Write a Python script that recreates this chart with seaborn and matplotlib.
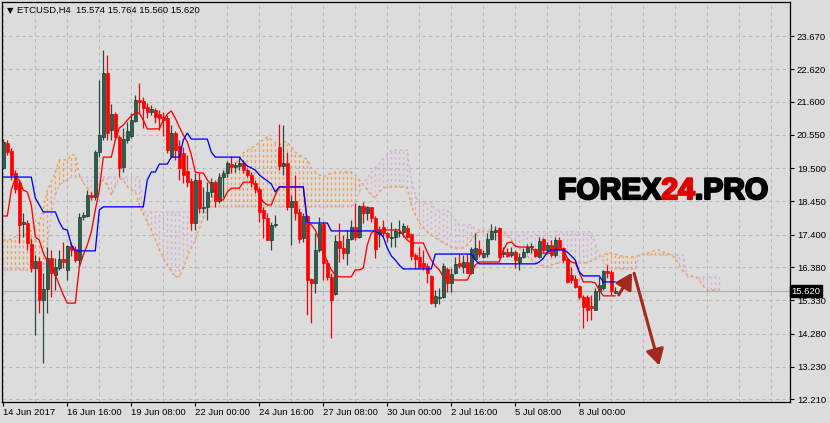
import matplotlib
matplotlib.use("Agg")
import matplotlib.pyplot as plt
import matplotlib.patheffects as pe
import seaborn as sns
import pandas as pd

# ---------------- data ----------------
opens = [
    19.51, 20.30, 20.04, 19.35, 19.03, 17.74, 17.77, 17.11, 16.35, 16.57,
    15.34, 15.69, 16.66, 16.13, 16.35, 16.63, 16.29, 17.04, 16.95, 16.60,
    17.96, 17.99, 18.65, 18.59, 20.01, 20.49, 22.51, 20.71, 21.21, 20.49,
    19.54, 20.39, 20.52, 20.99, 21.65, 21.62, 21.43, 21.27, 21.34, 21.21,
    21.12, 21.08, 19.89, 20.61, 20.20, 19.98, 19.41, 19.10, 17.77, 19.13,
    18.24, 18.28, 18.75, 19.06, 18.46, 19.22, 19.35, 19.63, 19.54, 19.57,
    19.66, 19.44, 19.29, 19.03, 18.84, 18.18, 17.93, 17.23, 17.71, 20.17,
    19.57, 19.66, 18.28, 18.46, 18.12, 17.30, 17.99, 16.00, 15.88, 16.92,
    17.74, 16.51, 16.07, 15.53, 17.20, 16.98, 16.82, 17.26, 17.64, 17.33,
    18.31, 18.09, 18.28, 17.93, 17.42, 17.64, 17.45, 17.30, 17.33, 17.45,
    17.49, 17.61, 17.42, 16.76, 16.70, 16.51, 16.41, 16.10, 15.24, 15.40,
    15.43, 16.32, 15.88, 16.19, 16.51, 16.38, 16.54, 16.19, 16.63, 16.95,
    16.70, 16.79, 17.26, 17.49, 17.61, 16.79, 16.85, 16.76, 16.85, 16.54,
    16.70, 16.85, 17.01, 16.95, 16.70, 17.26, 16.92, 17.08, 16.76, 17.23,
    16.98, 16.63, 16.13, 16.00, 15.78, 15.43, 15.43, 15.15, 15.02, 15.62,
    15.72, 16.25, 16.22, 15.574]
highs = [
    20.42, 20.39, 20.14, 19.44, 19.13, 18.09, 17.86, 17.30, 16.76, 16.70,
    16.19, 17.01, 16.92, 16.66, 16.92, 17.17, 17.08, 17.17, 17.04, 18.09,
    18.12, 18.81, 18.75, 20.07, 22.28, 23.23, 23.07, 21.53, 21.27, 20.55,
    20.77, 20.96, 21.24, 21.81, 22.19, 21.75, 21.56, 21.50, 21.40, 21.34,
    21.27, 21.18, 20.86, 20.67, 20.39, 20.17, 19.92, 19.19, 19.35, 19.35,
    18.91, 19.06, 19.19, 19.13, 19.35, 19.44, 19.73, 19.89, 19.70, 19.82,
    19.76, 19.51, 19.38, 19.13, 18.91, 18.28, 18.09, 17.80, 18.02, 20.89,
    20.86, 20.01, 18.65, 19.29, 18.24, 18.09, 18.02, 16.03, 17.45, 17.96,
    17.80, 16.60, 16.19, 17.39, 17.77, 17.39, 17.55, 17.86, 18.40, 18.34,
    18.43, 18.31, 18.28, 17.99, 17.67, 17.86, 17.49, 17.80, 17.61, 17.86,
    17.77, 17.71, 17.45, 16.82, 17.01, 16.92, 16.51, 16.13, 15.65, 15.72,
    16.51, 16.38, 16.35, 16.70, 16.79, 16.76, 16.79, 17.01, 17.45, 17.23,
    16.92, 17.45, 17.74, 17.67, 17.64, 17.01, 16.98, 17.01, 16.92, 16.82,
    16.98, 17.11, 17.14, 16.98, 17.33, 17.30, 17.17, 17.23, 17.33, 17.33,
    17.01, 16.70, 16.38, 16.13, 15.81, 15.50, 15.50, 15.50, 15.72, 16.07,
    16.29, 16.44, 16.29, 15.764]
lows = [
    19.47, 19.92, 19.13, 18.72, 17.14, 17.33, 16.92, 16.22, 14.23, 14.93,
    13.35, 14.93, 15.43, 15.65, 16.29, 16.35, 15.97, 16.73, 16.54, 16.38,
    17.86, 17.96, 18.50, 18.50, 19.85, 20.39, 20.39, 20.39, 20.39, 19.22,
    19.38, 20.30, 20.45, 20.96, 21.21, 20.77, 21.08, 21.18, 20.93, 20.71,
    20.52, 19.98, 19.85, 19.76, 19.13, 19.03, 18.91, 17.55, 17.55, 18.09,
    18.09, 17.86, 18.59, 18.28, 18.40, 18.59, 19.22, 19.35, 19.38, 19.44,
    19.35, 19.22, 18.91, 18.72, 17.80, 17.30, 17.23, 16.92, 17.64, 19.44,
    19.29, 18.18, 17.08, 17.86, 17.14, 17.17, 14.87, 14.61, 15.56, 16.85,
    15.97, 15.97, 14.14, 15.50, 16.54, 16.63, 16.44, 17.23, 17.23, 17.30,
    17.77, 17.86, 17.80, 16.66, 17.01, 17.33, 17.17, 17.01, 17.01, 17.33,
    17.33, 17.30, 16.60, 16.32, 16.35, 16.29, 15.88, 15.21, 15.12, 15.21,
    15.40, 15.59, 15.59, 16.16, 16.35, 16.19, 16.19, 16.16, 16.60, 16.70,
    16.66, 16.70, 17.23, 17.23, 16.66, 16.70, 16.70, 16.70, 16.35, 16.29,
    16.66, 16.82, 16.82, 16.70, 16.70, 16.85, 16.79, 16.70, 16.70, 16.92,
    16.54, 15.88, 15.88, 15.72, 15.37, 14.46, 14.68, 14.71, 15.02, 15.34,
    15.65, 16.03, 15.50, 15.56]
closes = [
    20.33, 20.01, 19.29, 18.84, 17.71, 17.80, 17.14, 16.35, 16.57, 15.34,
    15.69, 16.66, 16.19, 16.38, 16.63, 16.54, 17.04, 16.92, 16.60, 17.96,
    18.02, 18.65, 18.59, 20.01, 20.55, 22.51, 20.61, 21.21, 20.49, 19.51,
    20.42, 20.67, 21.02, 21.65, 21.59, 21.40, 21.27, 21.37, 21.12, 21.08,
    21.02, 20.07, 20.61, 20.07, 19.51, 19.29, 19.06, 17.77, 19.13, 18.24,
    18.28, 18.75, 19.06, 18.46, 19.22, 19.35, 19.66, 19.54, 19.60, 19.66,
    19.44, 19.29, 19.06, 18.84, 18.12, 17.93, 17.23, 17.71, 17.74, 19.57,
    19.66, 18.28, 18.46, 18.09, 17.26, 17.99, 15.97, 15.88, 16.92, 17.74,
    16.51, 16.07, 15.34, 17.20, 16.98, 16.82, 17.26, 17.64, 17.33, 18.31,
    18.09, 18.28, 17.93, 16.95, 17.55, 17.45, 17.33, 17.33, 17.52, 17.49,
    17.67, 17.33, 16.73, 16.63, 16.38, 16.38, 16.19, 15.24, 15.47, 15.43,
    16.41, 15.88, 16.16, 16.48, 16.41, 16.54, 16.19, 16.95, 16.98, 16.79,
    16.82, 17.26, 17.52, 17.55, 16.70, 16.85, 16.73, 16.85, 16.60, 16.70,
    16.85, 17.01, 17.04, 16.73, 17.20, 16.92, 17.08, 16.76, 17.23, 16.98,
    16.60, 15.91, 15.97, 15.75, 15.43, 15.12, 15.02, 15.09, 15.62, 15.81,
    16.25, 16.19, 15.62, 15.62]

tenkan = [
    17.99, 17.99, 18.81, 19.19, 19.13, 18.81, 18.75, 18.34, 17.33, 17.23,
    16.82, 16.57, 16.44, 16.13, 15.81, 15.50, 15.24, 15.24, 15.24, 16.38,
    16.76, 17.08, 17.49, 18.18, 18.81, 19.85, 19.85, 19.85, 20.39, 20.77,
    20.86, 21.02, 21.15, 21.24, 21.24, 21.02, 20.74, 20.74, 20.74, 20.74,
    21.02, 21.21, 21.31, 21.08, 20.80, 20.55, 20.33, 19.92, 19.38, 19.35,
    19.35, 19.13, 18.97, 18.75, 18.50, 18.50, 18.75, 18.87, 18.87, 18.87,
    19.06, 19.06, 19.06, 18.97, 18.65, 18.43, 18.34, 18.34, 18.65, 18.91,
    18.91, 18.91, 18.91, 18.91, 18.91, 18.91, 17.80, 17.71, 17.55, 17.23,
    16.85, 16.54, 16.29, 16.13, 16.07, 16.07, 16.07, 16.07, 16.29, 16.29,
    16.35, 17.08, 17.45, 17.55, 17.55, 17.55, 17.55, 17.55, 17.55, 17.55,
    17.39, 17.23, 17.14, 17.14, 17.14, 17.14, 16.85, 16.60, 16.41, 16.29,
    16.07, 16.03, 16.00, 15.97, 15.97, 15.97, 15.97, 16.22, 16.44, 16.54,
    16.54, 16.54, 16.54, 16.54, 16.54, 16.92, 17.14, 17.17, 17.04, 17.01,
    17.01, 17.01, 17.01, 16.85, 16.82, 16.82, 16.82, 16.82, 16.95, 16.98,
    16.92, 16.66, 16.54, 16.51, 16.22, 15.91, 15.91, 15.91, 15.88, 15.65,
    15.47, 15.47, 15.47, 15.47]
kijun = [
    19.22, 19.22, 19.22, 19.22, 19.22, 19.22, 19.22, 19.22, 18.56, 18.34,
    18.12, 18.12, 18.12, 18.12, 17.80, 17.58, 17.55, 17.08, 16.89, 16.89,
    16.89, 16.89, 16.89, 16.89, 18.18, 18.28, 18.28, 18.28, 18.28, 18.28,
    18.28, 18.28, 18.28, 18.28, 18.28, 18.28, 19.13, 19.38, 19.38, 19.63,
    19.63, 19.63, 19.85, 19.85, 19.85, 20.39, 20.61, 20.42, 20.42, 20.42,
    20.42, 20.42, 20.01, 19.85, 19.85, 19.85, 19.85, 19.85, 19.85, 19.85,
    19.70, 19.57, 19.51, 19.44, 19.29, 19.19, 19.10, 19.00, 18.75, 18.91,
    18.91, 18.91, 18.91, 18.91, 18.91, 18.91, 17.80, 17.77, 17.77, 17.77,
    17.77, 17.77, 17.52, 17.52, 17.52, 17.52, 17.52, 17.52, 17.52, 17.52,
    17.52, 17.52, 17.52, 17.52, 17.45, 17.33, 16.98, 16.73, 16.60, 16.44,
    16.32, 16.32, 16.32, 16.32, 16.32, 16.32, 16.32, 16.32, 16.79, 16.79,
    16.79, 16.79, 16.79, 16.79, 16.79, 16.79, 16.79, 16.79, 16.60, 16.48,
    16.48, 16.48, 16.48, 16.48, 16.48, 16.48, 16.48, 16.48, 16.48, 16.48,
    16.48, 16.48, 16.48, 16.48, 16.54, 16.66, 16.85, 16.92, 16.92, 16.92,
    16.92, 16.85, 16.73, 16.60, 16.22, 16.10, 16.10, 16.10, 16.10, 16.10,
    15.91, 15.91, 15.91, 15.91]
senkou_a = [
    17.23, 17.23, 17.26, 17.33, 17.36, 17.39, 17.45, 17.55, 17.67, 17.80,
    18.18, 18.81, 19.06, 19.38, 19.76, 19.76, 19.76, 19.92, 19.92, 19.29,
    19.03, 18.87, 18.72, 18.62, 18.97, 19.13, 18.97, 18.65, 18.97, 19.19,
    19.13, 18.91, 18.81, 18.75, 18.34, 18.05, 17.80, 17.55, 17.23, 16.92,
    16.66, 16.44, 16.25, 16.07, 16.07, 16.35, 16.70, 16.98, 17.23, 17.61,
    17.93, 18.18, 18.50, 18.97, 19.19, 19.35, 19.51, 19.57, 19.63, 19.82,
    19.98, 20.07, 20.14, 20.20, 20.33, 20.39, 20.49, 20.39, 20.30, 20.23,
    20.33, 20.33, 20.17, 20.01, 19.92, 19.85, 19.76, 19.51, 19.38, 19.29,
    19.22, 19.29, 19.35, 19.38, 19.38, 19.38, 19.38, 19.38, 19.29, 19.13,
    18.97, 18.81, 18.65, 18.56, 18.75, 18.87, 18.91, 18.91, 18.91, 18.91,
    18.91, 18.87, 18.34, 18.02, 17.77, 17.61, 17.49, 17.39, 17.30, 17.23,
    17.14, 17.08, 17.01, 16.98, 16.98, 16.98, 17.08, 17.23, 17.42, 17.49,
    17.49, 17.49, 17.49, 17.49, 17.49, 17.49, 17.36, 17.23, 17.08, 16.98,
    16.85, 16.73, 16.60, 16.51, 16.44, 16.41, 16.38, 16.44, 16.48, 16.51,
    16.51, 16.51, 16.51, 16.51, 16.51, 16.51, 16.51, 16.57, 16.63, 16.70,
    16.76, 16.82, 16.82, 16.79, 16.73, 16.73, 16.70, 16.70, 16.70, 16.76,
    16.79, 16.82, 16.85, 16.92, 16.92, 16.85, 16.82, 16.76, 16.66, 16.44,
    16.22, 16.13, 16.10, 16.07, 15.97, 15.78, 15.65, 15.65, 15.65, 15.65]
senkou_b = [
    16.29, 16.29, 16.29, 16.29, 16.29, 16.29, 16.29, 16.29, 16.29, 16.29,
    16.29, 17.08, 18.02, 18.65, 18.97, 19.06, 19.13, 19.22, 19.22, 19.22,
    19.22, 19.22, 19.22, 19.22, 19.22, 19.22, 19.22, 19.22, 19.22, 19.22,
    19.22, 19.22, 19.22, 19.22, 19.22, 18.12, 18.12, 18.12, 18.12, 18.12,
    18.12, 18.12, 18.12, 18.12, 18.12, 18.12, 18.12, 18.12, 18.12, 18.12,
    18.12, 18.28, 18.28, 18.28, 18.28, 18.28, 18.28, 18.28, 18.28, 18.28,
    18.28, 18.28, 18.28, 18.28, 18.28, 18.28, 18.28, 18.28, 18.28, 18.28,
    18.28, 18.28, 18.28, 18.28, 18.28, 18.28, 18.28, 18.28, 18.28, 18.28,
    18.28, 18.28, 18.28, 18.28, 18.28, 18.28, 18.28, 18.28, 18.43, 18.75,
    19.03, 19.19, 19.38, 19.51, 19.66, 19.82, 19.92, 20.07, 20.07, 20.07,
    20.07, 20.07, 19.13, 18.65, 18.40, 18.40, 18.40, 18.40, 18.18, 18.18,
    18.18, 18.18, 18.02, 17.86, 17.71, 17.71, 17.71, 17.71, 17.55, 17.55,
    17.55, 17.55, 17.55, 17.55, 17.55, 17.49, 17.49, 17.49, 17.49, 17.49,
    17.49, 17.49, 17.49, 17.49, 17.49, 17.49, 17.49, 17.49, 17.49, 17.49,
    17.49, 17.49, 17.49, 17.49, 17.49, 17.49, 17.49, 17.49, 17.08, 16.76,
    16.54, 16.41, 16.32, 16.32, 16.32, 16.32, 16.32, 16.32, 16.32, 16.76,
    16.76, 16.76, 16.76, 16.76, 16.76, 16.76, 16.76, 16.76, 16.76, 16.76,
    16.76, 16.07, 16.07, 16.07, 16.07, 16.07, 16.07, 16.07, 16.07, 16.07]

date_labels = ["14 Jun 2017", "16 Jun 16:00", "19 Jun 08:00", "22 Jun 00:00",
               "24 Jun 16:00", "27 Jun 08:00", "30 Jun 00:00", "2 Jul 16:00",
               "5 Jul 08:00", "8 Jul 00:00"]
date_label_bars = [0, 16, 32, 48, 64, 80, 96, 112, 128, 144]
price_ticks = [23.670, 22.620, 21.600, 20.550, 19.500, 18.450, 17.400,
               16.380, 15.330, 14.280, 13.230, 12.210]
last_price = 15.620
title_text = "ETCUSD,H4  15.574 15.764 15.560 15.620"

# ---------------- styling ----------------
sns.set_style("white")
plt.rcParams['font.family'] = ['Liberation Sans', 'DejaVu Sans']

BG = "#DCDCDC"
GRID = "#B9B9B9"
BULL_FACE = "#2F5E4E"
BULL_EDGE = "#1B3A30"
BULL_WICK = "#2B4A40"
BEAR = "#FF0000"
SANDY = "#F0A055"
THISTLE = "#D2B4D2"

W, H = 830, 423
fig = plt.figure(figsize=(W / 100, H / 100), dpi=100, facecolor=BG)
ax = fig.add_axes([2 / W, 21 / H, 788 / W, 400 / H], facecolor=BG)

n = len(opens)
bars = list(range(n))
df = pd.DataFrame({"bar": bars, "open": opens, "high": highs,
                   "low": lows, "close": closes,
                   "tenkan": tenkan, "kijun": kijun})
cloud = pd.DataFrame({"bar": list(range(len(senkou_a))),
                      "a": senkou_a, "b": senkou_b})

ax.set_xlim(-0.325, 196.675)
ax.set_ylim(12.119, 24.747)

# grid
for p in price_ticks:
    ax.axhline(p, color=GRID, lw=0.8, dashes=(3, 3), zorder=0)
for b in range(0, 197, 8):
    ax.axvline(b, color=GRID, lw=0.8, dashes=(3, 3), zorder=0)

# cloud hatching
for _, r in cloud.iterrows():
    lo, hi = min(r.a, r.b), max(r.a, r.b)
    col = SANDY if r.a >= r.b else THISTLE
    ax.vlines(r.bar, lo, hi, colors=col, lw=1.0, linestyles=(0, (2, 2)),
              zorder=1)
sns.lineplot(data=cloud, x="bar", y="a", ax=ax, color=SANDY, lw=1.0,
             zorder=2, legend=False)
sns.lineplot(data=cloud, x="bar", y="b", ax=ax, color=THISTLE, lw=1.0,
             zorder=2, legend=False)
for line in ax.lines[-2:]:
    line.set_dashes((2, 2))

# current price line
ax.axhline(last_price, color="#B2B2B2", lw=0.9, zorder=1)

# candles
for _, r in df.iterrows():
    bull = r.close >= r.open
    wick = BULL_WICK if bull else BEAR
    ax.vlines(r.bar, r.low, r.high, colors=wick, lw=0.9, zorder=3)
    lo, hi = min(r.open, r.close), max(r.open, r.close)
    h = max(hi - lo, 0.03)
    if bull:
        ax.bar(r.bar, h, bottom=lo, width=0.78, color=BULL_FACE,
               edgecolor=BULL_EDGE, linewidth=0.5, zorder=4)
    else:
        ax.bar(r.bar, h, bottom=lo, width=0.78, color=BEAR,
               edgecolor=BEAR, linewidth=0.5, zorder=4)

# tenkan / kijun
sns.lineplot(data=df, x="bar", y="tenkan", ax=ax, color="#FF0000", lw=0.95,
             zorder=5, legend=False)
sns.lineplot(data=df, x="bar", y="kijun", ax=ax, color="#0000FF", lw=0.95,
             zorder=5, legend=False)

# axes / ticks
ax.set_xlabel("")
ax.set_ylabel("")
for s in ax.spines.values():
    s.set_color("black")
    s.set_linewidth(0.9)
ax.yaxis.tick_right()
ax.set_yticks(price_ticks)
ax.set_yticklabels([f"{p:.3f}" for p in price_ticks])
ax.set_xticks(date_label_bars)
ax.set_xticklabels(date_labels)
for lab in ax.get_xticklabels():
    lab.set_horizontalalignment("left")
ax.tick_params(axis="y", which="both", length=3, width=0.8, pad=2,
               labelsize=6.8, colors="black", right=True, left=False)
ax.tick_params(axis="x", which="both", length=3, width=0.8, pad=1.5,
               labelsize=6.8, colors="black", bottom=True)

# last price box
ax.text(1.002, last_price, f"{last_price:.3f}", transform=ax.get_yaxis_transform(),
        ha="left", va="center", fontsize=6.8, color="white", zorder=10,
        bbox=dict(boxstyle="square,pad=0.15", fc="black", ec="black"),
        clip_on=False)

# title
fig.text(7 / W, 1 - 10.5 / H, "\u25BC", fontsize=6, family="DejaVu Sans",
         va="center", ha="left", color="black")
fig.text(17 / W, 1 - 10.5 / H, title_text, fontsize=6.8, va="center",
         ha="left", color="black")

# watermark
renderer = fig.canvas.get_renderer()
x0 = 558
yb = 1 - 199 / H
for piece, col in [("FOREX", "black"), ("24", "#E00000"), (".PRO", "black")]:
    t = fig.text(x0 / W, yb, piece, fontsize=21.6, fontweight="bold",
                 family="Liberation Sans", color=col, va="baseline", ha="left",
                 zorder=20,
                 path_effects=[pe.withStroke(linewidth=1.6, foreground=col)])
    bb = t.get_window_extent(renderer)
    x0 += bb.width

# arrows
ARW = "#A3281E"
ax.annotate("", xy=(157.2, 16.20), xytext=(153.85, 15.50),
            arrowprops=dict(arrowstyle="-|>,head_length=0.8,head_width=0.45",
                            color=ARW, lw=2.2, mutation_scale=12,
                            shrinkA=0, shrinkB=0), zorder=15)
ax.annotate("", xy=(164.0, 13.27), xytext=(157.7, 16.18),
            arrowprops=dict(arrowstyle="-|>,head_length=0.8,head_width=0.45",
                            color=ARW, lw=2.2, mutation_scale=12,
                            shrinkA=0, shrinkB=0), zorder=15)

fig.savefig("out.png", dpi=100, facecolor=BG)
